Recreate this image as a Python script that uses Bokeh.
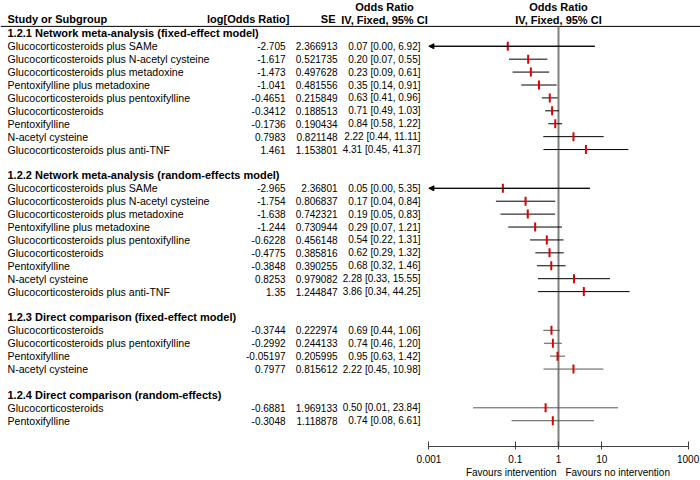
import math
from bokeh.plotting import figure
from bokeh.models import (Range1d, LinearScale, FixedTicker, CustomJSTickFormatter,
                          ColumnDataSource, LinearAxis, Arrow, NormalHead)
from bokeh.core.properties import value
from bokeh.embed import file_html
from bokeh.resources import INLINE

# ---------------- data ----------------
section_titles = [
    "1.2.1 Network meta-analysis (fixed-effect model)",
    "1.2.2 Network meta-analysis (random-effects model)",
    "1.2.3 Direct comparison (fixed-effect model)",
    "1.2.4 Direct comparison (random-effects)",
]
studies_121 = ["Glucocorticosteroids plus SAMe", "Glucocorticosteroids plus N-acetyl cysteine",
               "Glucocorticosteroids plus metadoxine", "Pentoxifylline plus metadoxine",
               "Glucocorticosteroids plus pentoxifylline", "Glucocorticosteroids", "Pentoxifylline",
               "N-acetyl cysteine", "Glucocorticosteroids plus anti-TNF"]
log_or_121 = [-2.705, -1.617, -1.473, -1.041, -0.4651, -0.3412, -0.1736, 0.7983, 1.461]
se_121 = [2.366913, 0.521735, 0.497628, 0.481556, 0.215849, 0.188513, 0.190434, 0.821148, 1.153801]

studies_122 = ["Glucocorticosteroids plus SAMe", "Glucocorticosteroids plus N-acetyl cysteine",
               "Glucocorticosteroids plus metadoxine", "Pentoxifylline plus metadoxine",
               "Glucocorticosteroids plus pentoxifylline", "Glucocorticosteroids", "Pentoxifylline",
               "N-acetyl cysteine", "Glucocorticosteroids plus anti-TNF"]
log_or_122 = [-2.965, -1.754, -1.638, -1.244, -0.6228, -0.4775, -0.3848, 0.8253, 1.35]
se_122 = [2.36801, 0.806837, 0.742321, 0.730944, 0.456148, 0.385816, 0.390255, 0.979082, 1.244847]

studies_123 = ["Glucocorticosteroids", "Glucocorticosteroids plus pentoxifylline",
               "Pentoxifylline", "N-acetyl cysteine"]
log_or_123 = [-0.3744, -0.2992, -0.05197, 0.7977]
se_123 = [0.222974, 0.244133, 0.205995, 0.815612]

studies_124 = ["Glucocorticosteroids", "Pentoxifylline"]
log_or_124 = [-0.6881, -0.3048]
se_124 = [1.969133, 1.118878]

axis_ticks = [0.001, 0.1, 1, 10, 1000]
axis_tick_labels = ["0.001", "0.1", "1", "10", "1000"]
axis_min, axis_max = 0.001, 1000
favours_labels = ["Favours intervention", "Favours no intervention"]

sections = [
    (section_titles[0], studies_121, log_or_121, se_121, "black"),
    (section_titles[1], studies_122, log_or_122, se_122, "black"),
    (section_titles[2], studies_123, log_or_123, se_123, "#555555"),
    (section_titles[3], studies_124, log_or_124, se_124, "#555555"),
]

# ---------------- layout ----------------
W, H = 700, 480
ROW0, PITCH = 33, 12.97          # y of first section title, row pitch
FRAME_TOP, FRAME_BOT = 0, 448    # frame (axis line at bottom)


def row_y(py):
    return (py - ROW0) / PITCH


X_ONE, DECADE = 558, 43.2        # x of OR = 1, px per decade
x_lo = 10 ** ((0 - X_ONE) / DECADE)
x_hi = 10 ** ((W - X_ONE) / DECADE)

FONT = value("Liberation Sans")

p = figure(width=W, height=H, x_axis_type="log", y_axis_location=None,
           x_range=Range1d(x_lo, x_hi),
           y_range=Range1d(row_y(FRAME_BOT), row_y(FRAME_TOP)),
           toolbar_location=None, output_backend="svg",
           min_border_left=0, min_border_right=0, min_border_top=0,
           min_border_bottom=H - (FRAME_BOT - FRAME_TOP))
p.outline_line_color = None
p.grid.visible = False
p.background_fill_color = "white"
p.extra_x_ranges = {"px": Range1d(0, W)}
p.extra_x_scales = {"px": LinearScale()}

# build rows
names, ys, lors, ses, cols, bold_t, bold_y = [], [], [], [], [], [], []
idx = 0
for title, st, lo, se, col in sections:
    bold_t.append(title)
    bold_y.append(idx)
    idx += 1
    for s, l, e in zip(st, lo, se):
        names.append(s); ys.append(idx); lors.append(l); ses.append(e); cols.append(col)
        idx += 1
    idx += 1

orv = [math.exp(l) for l in lors]
civ_lo = [math.exp(l - 1.96 * e) for l, e in zip(lors, ses)]
civ_hi = [math.exp(l + 1.96 * e) for l, e in zip(lors, ses)]
ci_text = ["%.2f [%.2f, %.2f]" % (o, a, b) for o, a, b in zip(orv, civ_lo, civ_hi)]
arrow_left = [a < axis_min for a in civ_lo]
seg_lo = [max(a, axis_min) for a in civ_lo]

src = ColumnDataSource(dict(name=names, y=ys, lor=[repr(v) for v in lors],
                            se=[repr(v) for v in ses], ci=ci_text, orv=orv,
                            lo=seg_lo, hi=civ_hi, col=cols))

base = dict(text_font=FONT, text_baseline="middle", text_color="black")
bold = dict(base, text_font_size="11px", text_font_style="bold")
name_t = dict(base, text_font_size="10.6px")
num_t = dict(base, text_font_size="10px")

# header
hdr_y1 = row_y(7)
hdr_y2 = row_y(20)
line_y = row_y(26)
p.text(x=[7], y=[row_y(19)], text=["Study or Subgroup"], text_align="left",
       x_range_name="px", **bold)
p.text(x=[289], y=[row_y(19)], text=["log[Odds Ratio]"], text_align="right",
       x_range_name="px", **bold)
p.text(x=[335], y=[row_y(19)], text=["SE"], text_align="right", x_range_name="px", **bold)
p.text(x=[384, 384], y=[hdr_y1, hdr_y2], text=["Odds Ratio", "IV, Fixed, 95% CI"],
       text_align="center", x_range_name="px", **bold)
p.text(x=[1, 1], y=[hdr_y1, hdr_y2], text=["Odds Ratio", "IV, Fixed, 95% CI"],
       text_align="center", **bold)
p.segment(x0=[0], x1=[W], y0=[line_y], y1=[line_y], line_color="black", line_width=1,
          x_range_name="px")

# section titles
p.text(x=[7] * len(bold_t), y=bold_y, text=bold_t, text_align="left",
       x_range_name="px", **bold)
# columns
p.text(x=7, y="y", text="name", source=src, text_align="left", x_range_name="px", **name_t)
p.text(x=285, y="y", text="lor", source=src, text_align="right", x_range_name="px", **num_t)
p.text(x=337, y="y", text="se", source=src, text_align="right", x_range_name="px", **num_t)
p.text(x=420, y="y", text="ci", source=src, text_align="right", x_range_name="px", **num_t)

# reference line at OR = 1
p.segment(x0=[1], x1=[1], y0=[line_y], y1=[row_y(FRAME_BOT)], line_color="#808080",
          line_width=2)

# CIs
p.segment(x0="lo", x1="hi", y0="y", y1="y", line_color="col", line_width=1, source=src)
arr_src = ColumnDataSource(dict(
    xs=[h for h, a in zip(civ_hi, arrow_left) if a],
    xe=[axis_min for a in arrow_left if a],
    y=[y for y, a in zip(ys, arrow_left) if a]))
p.add_layout(Arrow(end=NormalHead(size=5, fill_color="black", line_color="black"),
                   x_start="xs", x_end="xe", y_start="y", y_end="y", source=arr_src,
                   line_color="black", line_width=1))
# point estimates
p.rect(x="orv", y="y", width=2, height=9, width_units="screen", height_units="screen",
       fill_color="#e00000", line_color=None, source=src)

# axis
ax = p.xaxis[0]
ax.bounds = (axis_min, axis_max)
ax.ticker = FixedTicker(ticks=axis_ticks, minor_ticks=[])
ax.formatter = CustomJSTickFormatter(args=dict(tvals=axis_ticks, tlabels=axis_tick_labels),
                                     code="""
const i = tvals.findIndex(t => Math.abs(t - tick) <= 1e-9 * Math.max(1, t));
return i >= 0 ? tlabels[i] : '';
""")
ax.axis_line_color = "#404040"
ax.major_tick_line_color = "#404040"
ax.major_tick_in = 5
ax.major_tick_out = 3
ax.minor_tick_line_color = None
ax.major_label_standoff = 5
ax.major_label_text_font = "Liberation Sans"
ax.major_label_text_font_size = "10px"
ax.major_label_text_color = "black"

# "Favours" captions: a bare axis on the pixel range, labels centred either side of OR = 1
fav_centres = [556 - 45.3, 565 + 52.2]
fav_ax = LinearAxis(x_range_name="px",
                    ticker=FixedTicker(ticks=fav_centres, minor_ticks=[]),
                    formatter=CustomJSTickFormatter(args=dict(flabels=favours_labels),
                                                    code="return flabels[index];"),
                    axis_line_color=None, major_tick_line_color=None,
                    minor_tick_line_color=None, major_tick_in=0, major_tick_out=0,
                    minor_tick_in=0, minor_tick_out=0, major_label_standoff=1,
                    major_label_text_font="Liberation Sans",
                    major_label_text_font_size="10px", major_label_text_color="black")
p.add_layout(fav_ax, "below")

open("out.html", "w").write(file_html(p, INLINE))
